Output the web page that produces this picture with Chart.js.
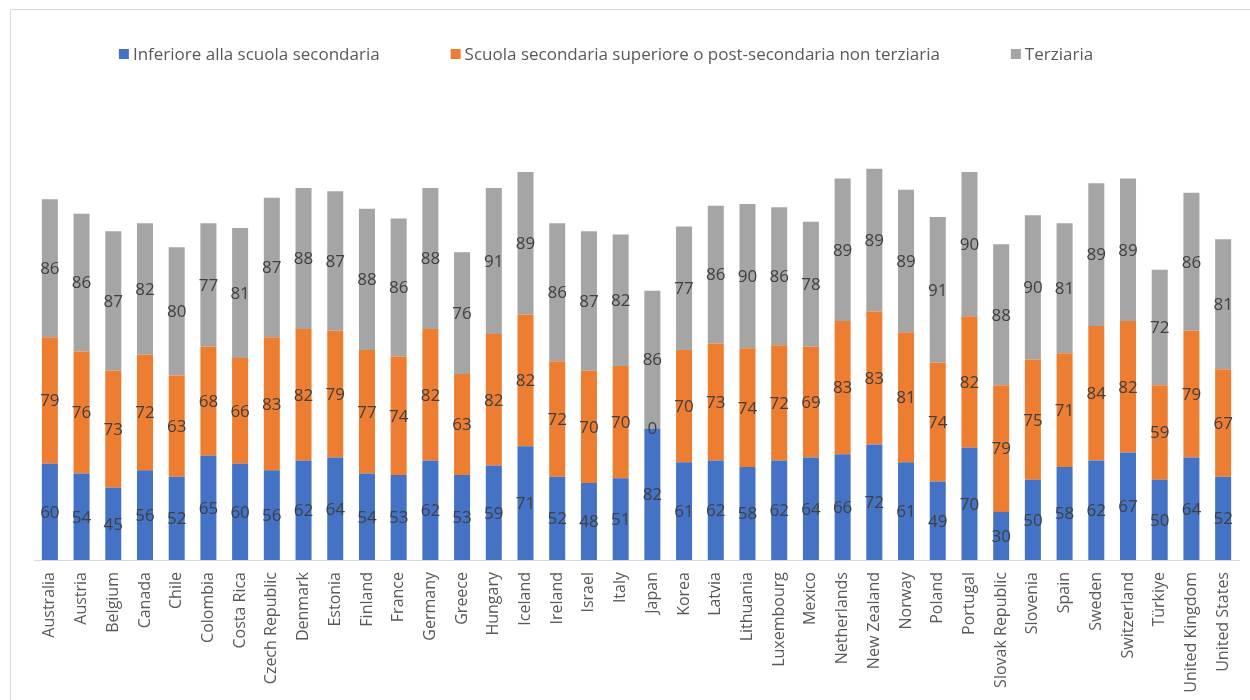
<!DOCTYPE html>
<html>
<head>
<meta charset="utf-8">
<script src="https://cdn.jsdelivr.net/npm/chart.js"></script>
<style>
  html, body { margin: 0; padding: 0; background: #fff; }
  #wrap { position: relative; width: 1250px; height: 700px; overflow: hidden; }
  #frame { position: absolute; left: 10px; top: 9px; width: 1300px; height: 760px; border: 1px solid #d9d9d9; }
  #chart { position: absolute; left: 0; top: 0; }
</style>
</head>
<body>
<div id="wrap">
  <div id="frame"></div>
  <canvas id="chart" width="1250" height="700"></canvas>
</div>
<script>
const countries = ["Australia", "Austria", "Belgium", "Canada", "Chile", "Colombia", "Costa Rica",
  "Czech Republic", "Denmark", "Estonia", "Finland", "France", "Germany", "Greece", "Hungary",
  "Iceland", "Ireland", "Israel", "Italy", "Japan", "Korea", "Latvia", "Lithuania", "Luxembourg",
  "Mexico", "Netherlands", "New Zealand", "Norway", "Poland", "Portugal", "Slovak Republic",
  "Slovenia", "Spain", "Sweden", "Switzerland", "Türkiye", "United Kingdom", "United States"];

const seriesNames = ["Inferiore alla scuola secondaria",
  "Scuola secondaria superiore o post-secondaria non terziaria",
  "Terziaria"];

const belowSecondary = [60, 54, 45, 56, 52, 65, 60, 56, 62, 64, 54, 53, 62, 53, 59, 71, 52, 48, 51, 82,
  61, 62, 58, 62, 64, 66, 72, 61, 49, 70, 30, 50, 58, 62, 67, 50, 64, 52];
const upperSecondary = [79, 76, 73, 72, 63, 68, 66, 83, 82, 79, 77, 74, 82, 63, 82, 82, 72, 70, 70, 0,
  70, 73, 74, 72, 69, 83, 83, 81, 74, 82, 79, 75, 71, 84, 82, 59, 79, 67];
const tertiary = [86, 86, 87, 82, 80, 77, 81, 87, 88, 87, 88, 86, 88, 76, 91, 89, 86, 87, 82, 86,
  77, 86, 90, 86, 78, 89, 89, 89, 91, 90, 88, 90, 81, 89, 89, 72, 86, 81];

const colors = ["#4472C4", "#ED7D31", "#A5A5A5"];
const FONT = "'Open Sans', 'DejaVu Sans', sans-serif";

// value printed in the middle of every segment
const segmentLabels = {
  id: "segmentLabels",
  afterDatasetsDraw(chart) {
    const ctx = chart.ctx;
    ctx.save();
    ctx.font = "17px " + FONT;
    ctx.fillStyle = "#404040";
    ctx.textAlign = "center";
    ctx.textBaseline = "middle";
    chart.data.datasets.forEach((ds, i) => {
      chart.getDatasetMeta(i).data.forEach((bar, j) => {
        const y = (bar.y + bar.base) / 2;
        ctx.fillText(String(ds.data[j]), bar.x, y + 1);
      });
    });
    ctx.restore();
  }
};

// legend row across the top
const topLegend = {
  id: "topLegend",
  afterDraw(chart) {
    const ctx = chart.ctx;
    const box = 10, gap = 4, spacing = 71, centerX = 606, y = 54;
    ctx.save();
    ctx.font = "17px " + FONT;
    ctx.textBaseline = "middle";
    const widths = chart.data.datasets.map(ds => box + gap + ctx.measureText(ds.label).width);
    const total = widths.reduce((a, b) => a + b, 0) + spacing * (widths.length - 1);
    let x = centerX - total / 2;
    chart.data.datasets.forEach((ds, i) => {
      ctx.fillStyle = ds.backgroundColor;
      ctx.fillRect(x, y - box / 2, box, box);
      ctx.fillStyle = "#595959";
      ctx.fillText(ds.label, x + box + gap, y + 1);
      x += widths[i] + spacing;
    });
    ctx.restore();
  }
};

new Chart(document.getElementById("chart"), {
  type: "bar",
  data: {
    labels: countries,
    datasets: [
      { label: seriesNames[0], data: belowSecondary, backgroundColor: colors[0] },
      { label: seriesNames[1], data: upperSecondary, backgroundColor: colors[1] },
      { label: seriesNames[2], data: tertiary, backgroundColor: colors[2] }
    ]
  },
  options: {
    responsive: false,
    animation: false,
    layout: { padding: { top: 79, left: 34, right: 11, bottom: 0 } },
    datasets: { bar: { barPercentage: 0.505, categoryPercentage: 1, borderWidth: 0 } },
    plugins: { legend: { display: false }, tooltip: { enabled: false } },
    scales: {
      x: {
        stacked: true,
        afterFit(scale) { scale.height = 140; },
        grid: { display: false },
        border: { display: true, color: "#d9d9d9", width: 1 },
        ticks: {
          color: "#595959",
          font: { family: FONT, size: 16 },
          minRotation: 90,
          maxRotation: 90,
          autoSkip: false,
          padding: 4
        }
      },
      y: {
        stacked: true,
        display: false,
        min: 0,
        max: 300
      }
    }
  },
  plugins: [segmentLabels, topLegend]
});
</script>
</body>
</html>
